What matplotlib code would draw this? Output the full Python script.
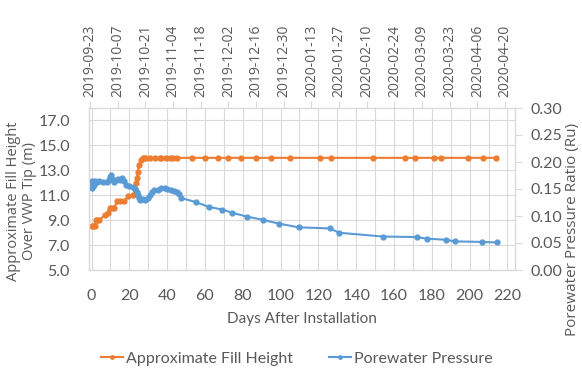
import matplotlib
matplotlib.use('Agg')
import matplotlib.pyplot as plt
from matplotlib.ticker import MultipleLocator

# Approximate fill height over VWP tip (m)
fill_days = [0, 1, 1.8, 2.2, 3, 4, 7, 8.5, 9.5, 11, 12, 13.5, 15, 17, 19.5, 22,
             23, 23.5, 24, 24.5, 25, 26, 27, 28, 29, 31, 33.5, 36, 37, 39.5,
             41.5, 43.3, 45, 53, 60, 67, 72, 79, 87, 95, 105, 121, 126.5, 149,
             166, 171, 181, 185, 199, 207, 214]
fill_height = [8.5, 8.5, 8.5, 9.0, 9.0, 9.0, 9.4, 9.6, 10.0, 10.0, 10.0, 10.5, 10.5,
               10.5, 10.9, 11.0, 11.5, 12.0, 12.4, 12.9, 13.4, 13.8, 14.0, 14.0,
               14.0, 14.0, 14.0, 14.0, 14.0, 14.0, 14.0, 14.0, 14.0, 14.0, 14.0,
               14.0, 14.0, 14.0, 14.0, 14.0, 14.0, 14.0, 14.0, 14.0, 14.0, 14.0,
               14.0, 14.0, 14.0, 14.0, 14.0]

# Porewater pressure ratio (Ru)
pore_days = [0, 0, 0.3, 0.6, 1, 1.5, 2, 3, 4, 6, 8, 9, 10, 10.5, 11, 12, 13, 14,
             15, 16, 17, 18, 20, 22, 23, 24, 24.5, 25, 25.7, 27, 28.5, 30, 31, 32,
             33, 35, 37, 39, 40, 42, 43.5, 45, 46.5, 47.5, 55, 62, 69, 74.5, 82,
             90.5, 99, 109.5, 126, 131, 154, 172, 177.5, 187.5, 192, 206.5, 214.5]
pore_ru = [0.152, 0.160, 0.165, 0.155, 0.163, 0.158, 0.165, 0.163, 0.164, 0.163,
           0.163, 0.166, 0.172, 0.176, 0.168, 0.163, 0.166, 0.169, 0.167, 0.170,
           0.165, 0.158, 0.156, 0.154, 0.150, 0.145, 0.139, 0.134, 0.130, 0.131,
           0.130, 0.133, 0.138, 0.145, 0.148, 0.149, 0.151, 0.152, 0.150, 0.148,
           0.147, 0.144, 0.140, 0.133, 0.126, 0.117, 0.112, 0.106, 0.099, 0.093,
           0.086, 0.079, 0.077, 0.069, 0.062, 0.061, 0.058, 0.056, 0.053, 0.052,
           0.051]

left_ticks = [5, 7, 9, 11, 13, 15, 17]
right_ticks = [0, 0.05, 0.10, 0.15, 0.20, 0.25, 0.30]

# top date axis, days counted from 2019-09-23
date_ticks = [0, 14, 28, 42, 56, 70, 84, 98, 112, 126, 140, 154, 168, 182, 196, 210]
date_labels = ['2019-09-23', '2019-10-07', '2019-10-21', '2019-11-04', '2019-11-18',
               '2019-12-02', '2019-12-16', '2019-12-30', '2020-01-13', '2020-01-27',
               '2020-02-10', '2020-02-24', '2020-03-09', '2020-03-23', '2020-04-06',
               '2020-04-20']

ORANGE = '#ED7D31'
BLUE = '#5B9BD5'
GRID = '#D9D9D9'
TEXT = '#595959'
TICKFONT = 'Lato'
LABELFONT = 'Open Sans'

fig = plt.figure(figsize=(5.82, 3.75), dpi=100)
ax = fig.add_axes([0.1534, 0.28, 0.7315, 0.432])

l1, = ax.plot(fill_days, fill_height, color=ORANGE, lw=1.5, marker='o', ms=3.5,
              label='Approximate Fill Height')
ax.set_xlim(-1.2, 224)
ax.set_ylim(5, 18)
ax.xaxis.set_major_locator(MultipleLocator(20))
ax.xaxis.set_minor_locator(MultipleLocator(10))
ax.set_yticks(left_ticks)
ax.set_yticklabels([f'{v:.1f}' for v in left_ticks])
ax.grid(True, which='both', axis='x', color=GRID, lw=0.8)
ax.grid(True, which='major', axis='y', color=GRID, lw=0.8)
ax.set_axisbelow(True)
ax.tick_params(axis='both', which='both', length=0, colors=TEXT)
ax.tick_params(axis='x', pad=14)
ax.tick_params(axis='y', pad=14)
for lab in ax.get_xticklabels() + ax.get_yticklabels():
    lab.set_fontfamily(TICKFONT)
    lab.set_fontsize(11.5)
ax.set_xlabel('Days After Installation', fontsize=11, color=TEXT,
              fontfamily=TICKFONT, labelpad=6)
ax.set_ylabel('Approximate Fill Height\nOver VWP Tip (m)', fontsize=10.5,
              color=TEXT, fontfamily=LABELFONT, linespacing=1.1,
              va='center', ha='center')
ax.yaxis.set_label_coords(-0.160, 0.426)

ax2 = ax.twinx()
l2, = ax2.plot(pore_days, pore_ru, color=BLUE, lw=1.5, marker='o', ms=3.5,
               label='Porewater Pressure')
ax2.set_ylim(0, 0.30)
ax2.set_yticks(right_ticks)
ax2.set_yticklabels([f'{v:.2f}' for v in right_ticks])
ax2.tick_params(axis='y', length=5, color=GRID, labelcolor=TEXT, pad=6)
for lab in ax2.get_yticklabels():
    lab.set_fontfamily(TICKFONT)
    lab.set_fontsize(11.5)
ax2.set_ylabel('Porewater Pressure Ratio (Ru)', fontsize=11, color=TEXT,
               fontfamily=LABELFONT, va='center', ha='center')
ax2.yaxis.set_label_coords(1.136, 0.25)

ax3 = ax.twiny()
ax3.set_xlim(-0.38, 215.0)
ax3.set_xticks(date_ticks)
ax3.set_xticklabels(date_labels, rotation=90, fontsize=10, color=TEXT,
                    fontfamily=LABELFONT)
ax3.tick_params(axis='x', length=5, color=GRID, pad=3)

for a in (ax, ax2, ax3):
    for sp in a.spines.values():
        sp.set_color(GRID)
        sp.set_linewidth(0.8)

leg = fig.legend(handles=[l1, l2], loc='center', bbox_to_anchor=(0.51, 0.043),
                 ncol=2, frameon=False, handlelength=1.4,
                 handletextpad=0.2, columnspacing=2.2, markerscale=0.7,
                 prop={'family': TICKFONT, 'size': 11.5})
for t in leg.get_texts():
    t.set_color(TEXT)

fig.savefig('out.png', dpi=100)
